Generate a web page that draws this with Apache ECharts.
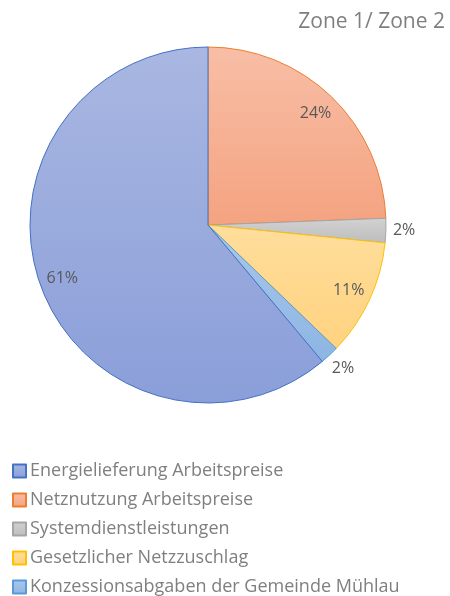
<!DOCTYPE html>
<html>
<head>
<meta charset="utf-8">
<script src="https://cdn.jsdelivr.net/npm/echarts@6/dist/echarts.min.js"></script>
<style>
	html, body { margin: 0; padding: 0; background: #fff; }
	#chart { width: 450px; height: 596px; }
</style>
</head>
<body>
<div id="chart"></div>
<script>
// Reihenfolge im Uhrzeigersinn ab 12 Uhr
var names = ['Netznutzung Arbeitspreise', 'Systemdienstleistungen', 'Gesetzlicher Netzzuschlag',
	'Konzessionsabgaben der Gemeinde Mühlau', 'Energielieferung Arbeitspreise'];
var values = [24.4, 2.2, 10.6, 1.7, 61.1];
var legendOrder = ['Energielieferung Arbeitspreise', 'Netznutzung Arbeitspreise', 'Systemdienstleistungen',
	'Gesetzlicher Netzzuschlag', 'Konzessionsabgaben der Gemeinde Mühlau'];
var smallSlices = ['Systemdienstleistungen', 'Konzessionsabgaben der Gemeinde Mühlau'];

var fills = {
	'Energielieferung Arbeitspreise': ['#A9B7E1', '#8A9ED9', '#4472C4'],
	'Netznutzung Arbeitspreise': ['#F8BEA6', '#F4A380', '#ED7D31'],
	'Systemdienstleistungen': ['#D2D2D2', '#BDBDBD', '#A5A5A5'],
	'Gesetzlicher Netzzuschlag': ['#FFDE9C', '#FFD27F', '#FFC000'],
	'Konzessionsabgaben der Gemeinde Mühlau': ['#A9C8EA', '#8DB5E3', '#5B9BD5']
};

var myChart = echarts.init(document.getElementById('chart'));

function pct(p) {
	return Math.round(p.percent) + '%';
}

var mainData = [];
var labelData = [];
names.forEach(function(n, i) {
	var c = fills[n];
	var small = smallSlices.indexOf(n) >= 0;
	mainData.push({
		name: n,
		value: values[i],
		itemStyle: {
			color: new echarts.graphic.LinearGradient(0, 0, 0, 1, [
				{ offset: 0, color: c[0] },
				{ offset: 1, color: c[1] }
			]),
			borderColor: c[2],
			borderWidth: 1
		},
		label: { show: small }
	});
	labelData.push({
		name: n,
		value: values[i],
		label: { show: !small }
	});
});

var option = {
	backgroundColor: '#fff',
	animation: false,
	title: {
		text: 'Zone 1/ Zone 2',
		right: 0,
		top: 7,
		textStyle: {
			fontFamily: 'Open Sans',
			fontWeight: 'normal',
			fontSize: 21,
			color: '#7F7F7F'
		}
	},
	legend: {
		orient: 'vertical',
		left: 12,
		top: 462,
		padding: 0,
		data: legendOrder,
		itemWidth: 13,
		itemHeight: 13,
		itemGap: 11,
		icon: 'rect',
		textStyle: {
			fontFamily: 'Open Sans',
			fontSize: 18,
			color: '#7F7F7F',
			padding: [0, 0, 0, -1]
		}
	},
	series: [{
		type: 'pie',
		center: [208, 225],
		radius: [0, 178],
		startAngle: 90,
		clockwise: true,
		silent: true,
		label: {
			position: 'outside',
			formatter: pct,
			fontFamily: 'Open Sans',
			fontSize: 16,
			color: '#595959'
		},
		labelLine: { show: false, length: 2, length2: 0 },
		// Excel setzt die untere 2%-Beschriftung etwas tiefer
		labelLayout: function(params) {
			if (params.dataIndex === 3) {
				return { dy: 12, dx: -4 };
			}
			return {};
		},
		data: mainData
	}, {
		// nur Beschriftungen innen
		type: 'pie',
		center: [208, 225],
		radius: [126, 178],
		startAngle: 90,
		clockwise: true,
		silent: true,
		legendHoverLink: false,
		itemStyle: { color: 'rgba(0,0,0,0)' },
		label: {
			position: 'inside',
			formatter: pct,
			fontFamily: 'Open Sans',
			fontSize: 16,
			color: '#595959'
		},
		data: labelData
	}]
};
myChart.setOption(option);
</script>
</body>
</html>
